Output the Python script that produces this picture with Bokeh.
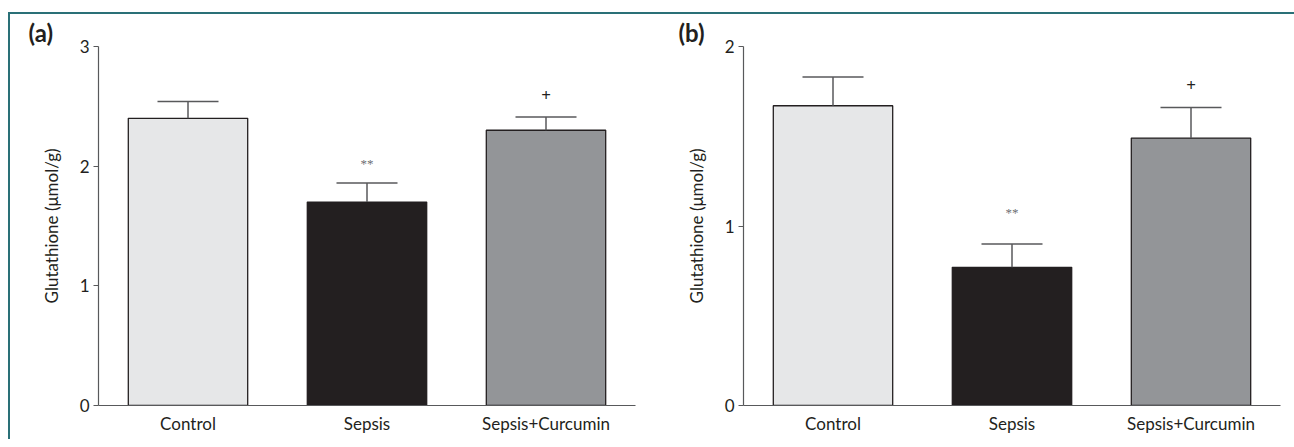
from bokeh.plotting import figure
from bokeh.layouts import row
from bokeh.models import FactorRange, Range1d, FixedTicker, ColumnDataSource, Whisker, TeeHead
from bokeh.embed import file_html
from bokeh.resources import INLINE

# ---- data ----
groups = ["Control", "Sepsis", "Sepsis+Curcumin"]
gsh_a = [2.40, 1.70, 2.30]
sem_a = [0.14, 0.16, 0.11]
gsh_b = [1.67, 0.77, 1.49]
sem_b = [0.16, 0.13, 0.17]
marks = ["", "**", "+"]
y_ticks_a = [0, 1, 2, 3]
y_ticks_b = [0, 1, 2]
panel_labels = ["(a)", "(b)"]
y_title = "Glutathione (\u03bcmol/g)"

# ---- styles ----
bar_colors = ["#e6e7e8", "#231f20", "#939598"]
mark_sizes = ["14px", "13px", "17px"]
mark_styles = ["normal", "normal", "bold"]
mark_colors = ["#231f20", "#6d6e71", "#231f20"]
FONT = "Lato"
TEAL = "#2a7077"
AX = "#58595b"


def panel(vals, sems, ymax, ticks, label, width, left, right, mark_off):
    p = figure(x_range=FactorRange(factors=groups, range_padding=0),
               y_range=Range1d(0, ymax),
               width=width, height=425,
               min_border_left=left, min_border_right=right,
               min_border_top=32, min_border_bottom=34,
               output_backend="svg", toolbar_location=None, tools="")
    upper = [v + s for v, s in zip(vals, sems)]
    src = ColumnDataSource(dict(cat=groups, top=vals, upper=upper, barfill=bar_colors,
                                mark=marks, msize=mark_sizes, moff=mark_off,
                                mstyle=mark_styles, mcolor=mark_colors))
    p.vbar(x="cat", top="top", width=0.667, source=src, fill_color="barfill",
           line_color="#231f20", line_width=1.3)
    wh = Whisker(base="cat", lower="top", upper="upper", source=src,
                 line_color=AX, line_width=1.5,
                 upper_head=TeeHead(size=61, line_color=AX, line_width=1.5),
                 lower_head=None, level="glyph")
    p.add_layout(wh)
    p.text(x="cat", y="upper", text="mark", source=src, text_align="center",
           text_baseline="middle", y_offset="moff", text_color="mcolor",
           text_font_size="msize", text_font_style="mstyle", text_font=FONT)

    p.title.text = label
    p.title.align = "left"
    p.title.offset = -(left - 18)
    p.title.standoff = 0
    p.title.text_font = FONT
    p.title.text_font_size = "24px"
    p.title.text_line_height = 1.0
    p.title.text_font_style = "bold"
    p.title.text_color = "#231f20"

    p.xgrid.grid_line_color = None
    p.ygrid.grid_line_color = None
    p.outline_line_color = None
    p.background_fill_color = "white"
    p.border_fill_color = "white"

    p.yaxis.ticker = FixedTicker(ticks=ticks)
    p.yaxis.minor_tick_line_color = None
    p.yaxis.major_tick_in = 0
    p.yaxis.major_tick_out = 5
    p.yaxis.major_tick_line_color = AX
    p.yaxis.axis_line_color = AX
    p.yaxis.axis_line_width = 1.2
    p.yaxis.major_label_standoff = 4
    p.yaxis.major_label_text_font = FONT
    p.yaxis.major_label_text_font_size = "17px"
    p.yaxis.major_label_text_color = "#231f20"
    p.yaxis.axis_label = y_title
    p.yaxis.axis_label_text_font = FONT
    p.yaxis.axis_label_text_font_size = "17px"
    p.yaxis.axis_label_text_font_style = "normal"
    p.yaxis.axis_label_text_color = "#231f20"
    p.yaxis.axis_label_standoff = 15

    p.xaxis.axis_line_color = AX
    p.xaxis.axis_line_width = 1.2
    p.xaxis.major_tick_line_color = None
    p.xaxis.major_tick_out = 0
    p.xaxis.major_tick_in = 0
    p.xaxis.major_label_standoff = 7
    p.xaxis.major_label_text_font = FONT
    p.xaxis.major_label_text_font_size = "17px"
    p.xaxis.major_label_text_color = "#231f20"
    return p


p1 = panel(gsh_a, sem_a, 3, y_ticks_a, panel_labels[0], 650, 88, 25, [0, -19, -22])
p2 = panel(gsh_b, sem_b, 2, y_ticks_b, panel_labels[1], 634, 83, 14, [0, -31, -22])

layout = row(p1, p2, styles={"border-top": "2px solid " + TEAL,
                             "border-left": "2px solid " + TEAL,
                             "margin-top": "12px", "margin-left": "8px"})

open("out.html", "w").write(file_html(layout, INLINE))
